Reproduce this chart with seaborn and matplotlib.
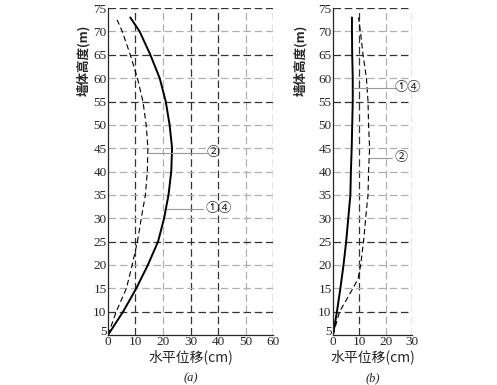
import numpy as np
import pandas as pd
import seaborn as sns
import matplotlib
matplotlib.use('Agg')
import matplotlib.pyplot as plt
import matplotlib.transforms as mtransforms

# wall height (m) and horizontal displacement (cm)
height = [5, 10, 15, 20, 25, 30, 35, 40, 45, 50, 55, 60, 65, 70, 73]
a_14 = [0, 5.5, 10.3, 14.5, 18.2, 20.4, 22.0, 23.0, 23.3, 22.4, 21.0, 18.8, 15.4, 11.5, 8.1]
height_a2 = [5, 10, 15, 20, 25, 30, 35, 40, 45, 50, 55, 60, 65, 70, 72.5]
a_2 = [0, 3.0, 6.7, 8.8, 10.7, 12.1, 13.6, 14.3, 14.5, 13.9, 12.7, 10.7, 8.1, 5.2, 3.3]
b_14 = [0, 1.5, 2.8, 4.0, 5.0, 5.8, 6.6, 6.8, 7.1, 7.3, 7.5, 7.5, 7.3, 7.2, 7.2]
height_b2 = [5, 10, 15, 17, 20, 25, 30, 35, 40, 45, 50, 55, 60, 65, 70, 73]
b_2 = [0, 2.5, 7.6, 9.5, 10.5, 11.6, 12.4, 13.3, 13.5, 13.9, 13.5, 13.3, 12.7, 11.4, 10.4, 9.7]

yticks = list(range(5, 80, 5))
xticks_a = [0, 10, 20, 30, 40, 50, 60]
xticks_b = [0, 10, 20, 30]

sns.set_style('white')
plt.rcParams['font.family'] = ['DejaVu Serif', 'Noto Sans CJK SC', 'DejaVu Sans']
serif = ['Liberation Serif', 'DejaVu Serif']
cjk = ['Noto Sans CJK SC', 'DejaVu Sans']

fig = plt.figure(figsize=(4.97, 3.85), dpi=100)
ax1 = fig.add_axes([0.2173, 0.1299, 0.332, 0.849])
ax2 = fig.add_axes([0.670, 0.1299, 0.159, 0.849])

dark_y = [10, 25, 55, 65, 75]


def setup(ax, xticks, dark_x, ylab_x):
    xmax = xticks[-1]
    ax.set_xlim(0, xmax)
    ax.set_ylim(5, 75)
    ax.set_xticks(xticks)
    ax.set_yticks(yticks)
    ax.set_xticklabels([str(v) for v in xticks], family=serif, fontsize=9.5)
    ax.set_yticklabels([str(v) for v in yticks], family=serif, fontsize=9.5)
    ax.tick_params(length=0, pad=1)
    # lift the "5" a little so it clears the "0"
    lab5 = ax.get_yticklabels()[0]
    lab5.set_transform(lab5.get_transform() + mtransforms.ScaledTranslation(0, 3 / 72, fig.dpi_scale_trans))
    for x in xticks[1:]:
        c = '#333333' if x in dark_x else '#b0b0b0'
        ax.axvline(x, color=c, lw=0.9, dashes=(6, 3), zorder=0)
    for y in yticks[1:]:
        c = '#333333' if y in dark_y else '#b0b0b0'
        ax.axhline(y, color=c, lw=0.9, dashes=(6, 3), zorder=0)
    ax.spines['top'].set_visible(False)
    ax.spines['right'].set_visible(False)
    ax.spines['left'].set_linewidth(0.9)
    ax.spines['bottom'].set_linewidth(0.9)
    ax.set_xlabel('水平位移(cm)', family=cjk, fontsize=10, labelpad=1)
    ax.set_ylabel('墙体高度(m)', family=cjk, fontsize=9, fontweight='bold')
    ax.yaxis.set_label_coords(ylab_x, 0.84)


# (a)
sns.lineplot(x=a_14, y=height, ax=ax1, sort=False, estimator=None, color='black', lw=1.4)
sns.lineplot(x=a_2, y=height_a2, ax=ax1, sort=False, estimator=None, color='black', lw=0.8,
             dashes=False, linestyle=(0, (5, 3)))
setup(ax1, xticks_a, [10, 30, 40, 60], -0.105)
ax1.plot([14.5, 36], [44, 44], color='#999999', lw=0.8)
ax1.text(38.3, 44, '②', family=cjk, fontsize=9.5, ha='center', va='center')
ax1.plot([21.5, 34.5], [32, 32], color='#999999', lw=0.8)
ax1.text(40.3, 32, '①④', family=cjk, fontsize=9.5, ha='center', va='center')
ax1.text(0.5, -0.132, '(a)', transform=ax1.transAxes, family=serif, fontsize=9, ha='center', va='center', style='italic')

# (b)
sns.lineplot(x=b_14, y=height, ax=ax2, sort=False, estimator=None, color='black', lw=1.4)
sns.lineplot(x=b_2, y=height_b2, ax=ax2, sort=False, estimator=None, color='black', lw=0.8,
             dashes=False, linestyle=(0, (5, 3)))
setup(ax2, xticks_b, [10, 30], -0.32)
ax2.plot([7.5, 24], [58, 58], color='#999999', lw=0.8)
ax2.text(28.5, 58, '①④', family=cjk, fontsize=9.5, ha='center', va='center', clip_on=False)
ax2.plot([13.9, 22.4], [43, 43], color='#999999', lw=0.8)
ax2.text(26, 43, '②', family=cjk, fontsize=9.5, ha='center', va='center', clip_on=False)
ax2.text(0.5, -0.132, '(b)', transform=ax2.transAxes, family=serif, fontsize=9, ha='center', va='center', style='italic')

fig.savefig('out.png', dpi=100)
